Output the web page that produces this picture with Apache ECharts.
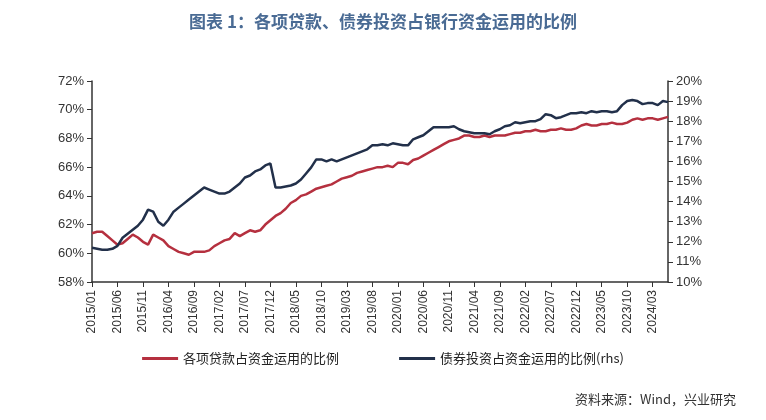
<!DOCTYPE html>
<html><head><meta charset="utf-8">
<script src="https://cdn.jsdelivr.net/npm/echarts@6/dist/echarts.min.js"></script>
<style>html,body{margin:0;padding:0;background:#fff}#c{width:766px;height:420px}</style>
</head><body><div id="c"></div>
<script>
const months=[];for(let y=2015;y<=2024;y++)for(let m=1;m<=12;m++){if(y===2024&&m>6)break;months.push(y+'/'+String(m).padStart(2,'0'));}
const loanShare=[61.4,61.5,61.5,61.2,60.9,60.6,60.7,61.0,61.3,61.1,
60.8,60.6,61.3,61.1,60.9,60.5,60.3,60.1,60.0,59.9,
60.1,60.1,60.1,60.2,60.5,60.7,60.9,61.0,61.4,61.2,
61.4,61.6,61.5,61.6,62.0,62.3,62.6,62.8,63.1,63.5,
63.7,64.0,64.1,64.3,64.5,64.6,64.7,64.8,65.0,65.2,
65.3,65.4,65.6,65.7,65.8,65.9,66.0,66.0,66.1,66.0,
66.3,66.3,66.2,66.5,66.6,66.8,67.0,67.2,67.4,67.6,
67.8,67.9,68.0,68.2,68.2,68.1,68.1,68.2,68.1,68.2,
68.2,68.2,68.3,68.4,68.4,68.5,68.5,68.6,68.5,68.5,
68.6,68.6,68.7,68.6,68.6,68.7,68.9,69.0,68.9,68.9,
69.0,69.0,69.1,69.0,69.0,69.1,69.3,69.4,69.3,69.4,
69.4,69.3,69.4,69.5];
const bondShare=[11.7,11.65,11.6,11.6,11.65,11.8,12.2,12.4,12.6,12.8,
13.1,13.6,13.5,13.0,12.8,13.1,13.5,13.7,13.9,14.1,
14.3,14.5,14.7,14.6,14.5,14.4,14.4,14.5,14.7,14.9,
15.2,15.3,15.5,15.6,15.8,15.9,14.7,14.7,14.75,14.8,
14.9,15.1,15.4,15.7,16.1,16.1,16.0,16.1,16.0,16.1,
16.2,16.3,16.4,16.5,16.6,16.8,16.8,16.85,16.8,16.9,
16.85,16.8,16.8,17.1,17.2,17.3,17.5,17.7,17.7,17.7,
17.7,17.75,17.6,17.5,17.45,17.4,17.4,17.4,17.35,17.5,
17.6,17.75,17.8,17.95,17.9,17.95,18.0,18.0,18.1,18.35,
18.3,18.15,18.2,18.3,18.4,18.4,18.45,18.4,18.5,18.45,
18.5,18.5,18.45,18.5,18.8,19.0,19.05,19.0,18.85,18.9,
18.9,18.8,19.0,18.95];
const font='"Noto Sans CJK SC","Noto Sans",sans-serif';
const axisLine={lineStyle:{color:'#333',width:1.5}};
const ch=echarts.init(document.getElementById('c'));
ch.setOption({
 animation:false,
 title:{text:'图表 1：各项贷款、债券投资占银行资金运用的比例',left:'center',top:8,textStyle:{color:'#4a6b94',fontSize:17,fontWeight:'bold',fontFamily:font}},
 graphic:[{type:'text',right:30,top:393,style:{text:'资料来源：Wind，兴业研究',fill:'#333',font:'13px '+font}}],
 legend:{bottom:50,itemGap:60,icon:'rect',itemWidth:36,itemHeight:3,textStyle:{fontFamily:font,fontSize:13,color:'#222'},data:['各项贷款占资金运用的比例','债券投资占资金运用的比例(rhs)']},
 grid:{left:92,right:98,top:81,bottom:138},
 xAxis:{type:'category',data:months,boundaryGap:false,axisLine:axisLine,axisTick:{interval:4,lineStyle:{color:'#333'}},axisLabel:{interval:4,rotate:90,color:'#333',fontSize:12,fontFamily:'"Liberation Sans",sans-serif'}},
 yAxis:[{type:'value',min:58,max:72,interval:2,axisLine:{show:true,...axisLine},axisTick:{show:true,lineStyle:{color:'#333'}},splitLine:{show:false},axisLabel:{formatter:'{value}%',color:'#333',fontSize:13,fontFamily:'"Liberation Sans",sans-serif'}},
 {type:'value',min:10,max:20,interval:1,axisLine:{show:true,...axisLine},axisTick:{show:true,lineStyle:{color:'#333'}},splitLine:{show:false},axisLabel:{formatter:'{value}%',color:'#333',fontSize:13,fontFamily:'"Liberation Sans",sans-serif'}}],
 series:[{name:'各项贷款占资金运用的比例',type:'line',data:loanShare,showSymbol:false,lineStyle:{color:'#b5303f',width:2.5},itemStyle:{color:'#b5303f'}},
 {name:'债券投资占资金运用的比例(rhs)',type:'line',yAxisIndex:1,data:bondShare,showSymbol:false,lineStyle:{color:'#22304a',width:2.5},itemStyle:{color:'#22304a'}}]
});
</script></body></html>
